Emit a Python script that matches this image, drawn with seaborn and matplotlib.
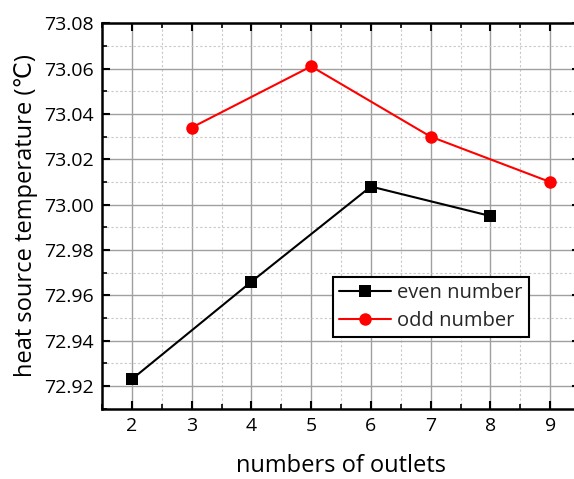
import matplotlib
matplotlib.use("Agg")
import matplotlib.pyplot as plt
from matplotlib.ticker import MultipleLocator
import seaborn as sns
import pandas as pd

# Heat source temperature versus the number of outlets
even_outlets = [2, 4, 6, 8]
even_temp = [72.923, 72.966, 73.008, 72.995]
odd_outlets = [3, 5, 7, 9]
odd_temp = [73.034, 73.061, 73.030, 73.010]
x_ticks = [2, 3, 4, 5, 6, 7, 8, 9]

sns.set_theme(style="white")
plt.rcParams["font.family"] = ["Open Sans", "DejaVu Sans"]

even_df = pd.DataFrame({"outlets": even_outlets, "temp": even_temp})
odd_df = pd.DataFrame({"outlets": odd_outlets, "temp": odd_temp})

fig = plt.figure(figsize=(5.74, 4.79), dpi=100)
W, H = 574, 479
left, right, top, bottom = 102, 580, 23.3, 408.7
ax = fig.add_axes([left / W, 1 - bottom / H, (right - left) / W, (bottom - top) / H])

sns.lineplot(data=even_df, x="outlets", y="temp", ax=ax, color="black",
             marker="s", markersize=8, markeredgewidth=0, linewidth=1.5,
             label="even number", zorder=3)
sns.lineplot(data=odd_df, x="outlets", y="temp", ax=ax, color="#ff0000",
             marker="o", markersize=9, markeredgewidth=0, linewidth=1.5,
             label="odd number", zorder=3)

ax.set_xlim(1.5, 9.5)
ax.set_ylim(72.91, 73.08)
ax.set_xticks(x_ticks)
ax.xaxis.set_minor_locator(MultipleLocator(0.5))
ax.yaxis.set_major_locator(MultipleLocator(0.02))
ax.yaxis.set_minor_locator(MultipleLocator(0.01))
ax.yaxis.set_major_formatter(matplotlib.ticker.FormatStrFormatter("%.2f"))

ax.grid(True, which="major", color="#a0a0a0", linewidth=1.0, linestyle="-")
ax.grid(True, which="minor", color="#c8c8c8", linewidth=0.8, linestyle=(0, (2, 2)))
ax.set_axisbelow(True)

for side in ["left", "bottom", "top", "right"]:
    ax.spines[side].set_visible(True)
    ax.spines[side].set_color("black")
    ax.spines[side].set_linewidth(1.8)

ax.tick_params(which="major", direction="in", length=6, width=1.5, color="black",
               top=True, right=True, bottom=True, left=True,
               labelsize=14, labelcolor="black", pad=6)
ax.tick_params(which="minor", direction="in", length=3.5, width=1.2, color="black",
               top=True, right=True, bottom=True, left=True)

ax.set_xlabel("numbers of outlets", fontsize=17, color="black", labelpad=14)
ax.set_ylabel("heat source temperature (\u2103)", fontsize=17, color="black", labelpad=4)

leg = ax.legend(loc="lower left", bbox_to_anchor=((333 - left) / (right - left),
                                                   (bottom - 337) / (bottom - top)),
                borderaxespad=0, fontsize=14.5, frameon=True, fancybox=False,
                handlelength=2.6, handletextpad=0.3, borderpad=0.3,
                labelspacing=0.4)
leg.get_frame().set_edgecolor("black")
leg.get_frame().set_linewidth(1.5)
leg.get_frame().set_facecolor("white")
leg.get_frame().set_alpha(1)

fig.savefig("out.png", dpi=100)
